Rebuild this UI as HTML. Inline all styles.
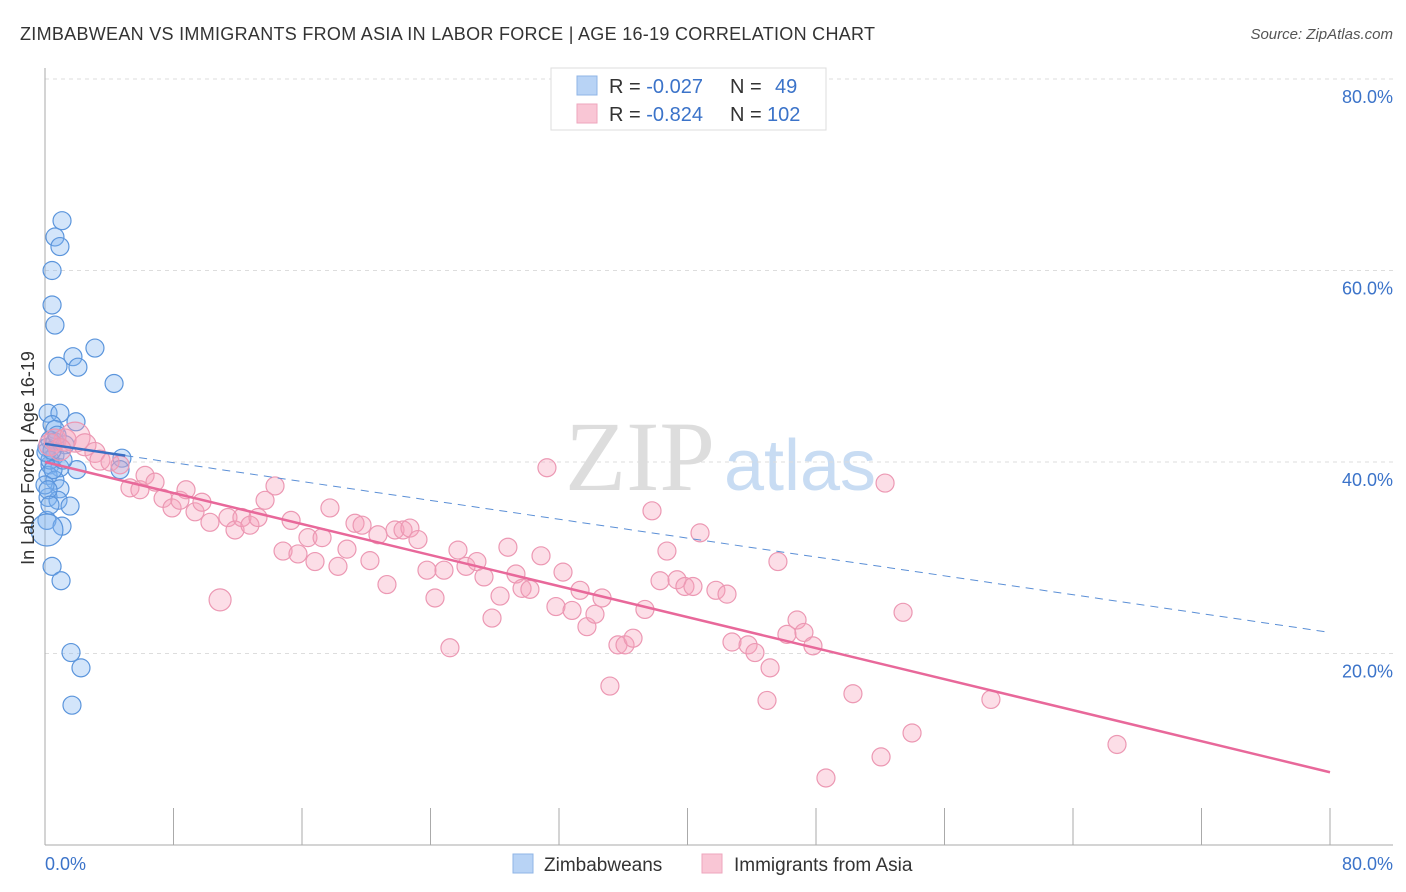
<!DOCTYPE html>
<html><head><meta charset="utf-8"><style>
body{margin:0;background:#fff;font-family:"Liberation Sans",sans-serif}
svg{display:block}
</style></head><body>
<svg width="1406" height="892">
<text x="20" y="40" font-size="18" fill="#333" textLength="855">ZIMBABWEAN VS IMMIGRANTS FROM ASIA IN LABOR FORCE | AGE 16-19 CORRELATION CHART</text>
<text x="1393" y="39" font-size="15" fill="#555" font-style="italic" text-anchor="end">Source: ZipAtlas.com</text>
<text x="640" y="490" font-size="100" fill="#ddd" font-family="Liberation Serif" text-anchor="middle">ZIP</text>
<text x="800" y="490" font-size="72" fill="#c8dcf3" text-anchor="middle">atlas</text>
<g id="grid"></g>
<g id="axes"></g>
<g id="pts"></g>
<g id="trend"></g>
<text transform="translate(34,458) rotate(-90)" font-size="18" fill="#333" text-anchor="middle">In Labor Force | Age 16-19</text>
<text x="45" y="870" font-size="18" fill="#3b73c9">0.0%</text>
<text x="1393" y="870" font-size="18" fill="#3b73c9" text-anchor="end">80.0%</text>
<g>
<rect x="551" y="68" width="275" height="62" fill="#fff" stroke="#ddd"/>
<rect x="577" y="76" width="20" height="19" fill="#b8d3f5" stroke="#8fb5e6"/>
<rect x="577" y="104" width="20" height="19" fill="#f9c6d5" stroke="#eea6bd"/>
<text x="609" y="93" font-size="20" fill="#333">R = <tspan fill="#3b73c9">-0.027</tspan><tspan x="730">N = </tspan><tspan x="775" fill="#3b73c9">49</tspan></text>
<text x="609" y="121" font-size="20" fill="#333">R = <tspan fill="#3b73c9">-0.824</tspan><tspan x="730">N = </tspan><tspan x="767" fill="#3b73c9">102</tspan></text>
</g>
<g>
<rect x="513" y="854" width="20" height="19" fill="#b8d3f5" stroke="#8fb5e6"/>
<text x="544" y="871" font-size="19" fill="#333">Zimbabweans</text>
<rect x="702" y="854" width="20" height="19" fill="#f9c6d5" stroke="#eea6bd"/>
<text x="734" y="871" font-size="19" fill="#333">Immigrants from Asia</text>
</g>
</svg>
<script>
const yTicks=[20,40,60,80];
const yTickLabels=["20.0%","40.0%","60.0%","80.0%"];
const xTicks=[0,8,16,24,32,40,48,56,64,72,80];
const blueX=[1.06,0.62,0.93,0.44,0.44,0.62,1.74,0.81,2.05,3.11,4.30,0.19,0.93,1.93,0.44,0.62,0.31,0.12,0.62,0.31,0.93,1.99,4.79,4.67,0.19,0.62,0.93,0.19,0.81,1.56,0.12,1.06,0.12,0.44,1.00,1.62,2.24,1.68,0.31,0.50,0.0,0.19,0.31,0.62,1.25,0.75,0.06,1.12,0.44];
const blueY=[65.2,63.5,62.5,60.0,56.4,54.3,51.0,50.0,49.9,51.9,48.2,45.1,45.1,44.2,43.9,43.4,42.3,41.5,40.7,39.7,39.4,39.2,40.4,39.2,38.6,38.1,37.2,36.3,36.0,35.4,33.9,33.3,32.9,29.1,27.6,20.1,18.5,14.6,40.2,39.2,37.6,37.1,35.5,42.1,41.8,42.8,41.0,40.2,41.2];
const blueR=[9,9,9,9,9,9,9,9,9,9,9,9,9,9,9,9,9,9,9,9,9,9,9,9,9,9,9,9,9,9,9,9,16,9,9,9,9,9,9,9,9,9,9,9,9,9,9,9,9];
const pinkX=[0.62,1.25,1.87,2.49,3.11,3.42,4.05,4.67,5.29,5.91,6.23,6.85,7.35,7.91,8.40,8.78,9.34,9.77,10.27,10.90,11.39,11.83,12.26,12.76,13.26,13.70,14.32,14.82,15.32,15.75,16.37,16.81,17.25,17.74,18.24,18.80,19.30,19.74,20.23,20.73,21.29,21.79,22.29,22.72,23.22,23.78,24.28,24.84,25.21,25.71,26.21,26.89,27.33,27.83,28.33,28.82,29.32,29.70,30.19,30.88,31.25,31.81,32.25,32.81,33.31,33.74,34.24,34.68,35.17,35.67,36.11,36.61,37.35,37.79,38.29,38.72,39.35,39.84,40.34,40.78,41.77,42.46,42.77,43.77,44.20,44.95,45.14,45.63,46.19,46.82,47.25,47.81,48.62,50.30,52.05,52.30,53.42,53.98,58.89,66.74,0.31,0.93];
const pinkY=[42.3,42.3,42.6,41.8,41.0,40.2,40.0,39.7,37.3,37.1,38.6,37.9,36.2,35.2,36.0,37.1,34.8,35.8,33.7,25.6,34.2,32.9,34.2,33.4,34.2,36.0,37.5,30.7,33.9,30.4,32.1,29.6,32.1,35.2,29.1,30.9,33.6,33.4,29.7,32.4,27.2,32.9,32.9,33.1,31.9,28.7,25.8,28.7,20.6,30.8,29.1,29.6,28.0,23.7,26.0,31.1,28.3,26.8,26.7,30.2,39.4,24.9,28.5,24.5,26.6,22.8,24.1,25.8,16.6,20.9,20.9,21.6,24.6,34.9,27.6,30.7,27.7,27.0,27.0,32.6,26.6,26.2,21.2,20.9,20.1,15.1,18.5,29.6,22.0,23.5,22.2,20.8,7.0,15.8,9.2,37.8,24.3,11.7,15.2,10.5,41.8,41.3];
const pinkR=[11,11,15,11,10,10,9,9,9,9,9,9,9,9,9,9,9,9,9,11,9,9,9,9,9,9,9,9,9,9,9,9,9,9,9,9,9,9,9,9,9,9,9,9,9,9,9,9,9,9,9,9,9,9,9,9,9,9,9,9,9,9,9,9,9,9,9,9,9,9,9,9,9,9,9,9,9,9,9,9,9,9,9,9,9,9,9,9,9,9,9,9,9,9,9,9,9,9,9,9,11,11];
const blueTrend=[41.9,22.2];
const pinkTrend=[40.0,7.6];
const X0=45,X1=1330,Y0=845,Y80=79;
const sx=v=>X0+(X1-X0)*v/80;
const sy=v=>Y0-(Y0-Y80)*v/80;
const NS="http://www.w3.org/2000/svg";
function mk(tag,attrs,parent){const e=document.createElementNS(NS,tag);for(const k in attrs)e.setAttribute(k,attrs[k]);document.getElementById(parent).appendChild(e);return e;}
yTicks.forEach((t,i)=>{
 const g=mk('line',{x1:45,x2:1393,y1:sy(t),y2:sy(t),stroke:'#ddd','stroke-dasharray':'4,4'},'grid');
 
 
 const l=mk('text',{x:1393,y:sy(t)+24,'font-size':18,fill:'#3b73c9','text-anchor':'end'},'grid');
 l.textContent=yTickLabels[i];
 
 
});
const ya=mk('line',{x1:45,x2:45,y1:68,y2:845,stroke:'#aaa'},'axes');


const xa=mk('line',{x1:45,x2:1393,y1:845,y2:845,stroke:'#aaa'},'axes');


xTicks.forEach(t=>{
 const k=mk('line',{x1:sx(t),x2:sx(t),y1:808,y2:845,stroke:'#aaa'},'axes');
 
 
});
blueX.forEach((x,i)=>{
 const c=mk('circle',{cx:sx(x),cy:sy(blueY[i]),r:blueR[i],fill:'rgba(130,180,240,0.35)',stroke:'#5b95dc','stroke-width':1.2},'pts');
 
 
});
pinkX.forEach((x,i)=>{
 const c=mk('circle',{cx:sx(x),cy:sy(pinkY[i]),r:pinkR[i],fill:'rgba(245,160,185,0.35)',stroke:'#ec98b3','stroke-width':1.2},'pts');
 
 
});
const bt=v=>blueTrend[0]+(blueTrend[1]-blueTrend[0])*v/80;
const b1=mk('line',{x1:sx(0),y1:sy(bt(0)),x2:sx(5),y2:sy(bt(5)),stroke:'#3b6fc4','stroke-width':2.5},'trend');


const b2=mk('line',{x1:sx(5),y1:sy(bt(5)),x2:sx(80),y2:sy(bt(80)),stroke:'#5b8fd6','stroke-width':1,'stroke-dasharray':'8,6'},'trend');


const p1=mk('line',{x1:sx(0),y1:sy(pinkTrend[0]),x2:sx(80),y2:sy(pinkTrend[1]),stroke:'#e8689a','stroke-width':2.5},'trend');


</script>
</body></html>
